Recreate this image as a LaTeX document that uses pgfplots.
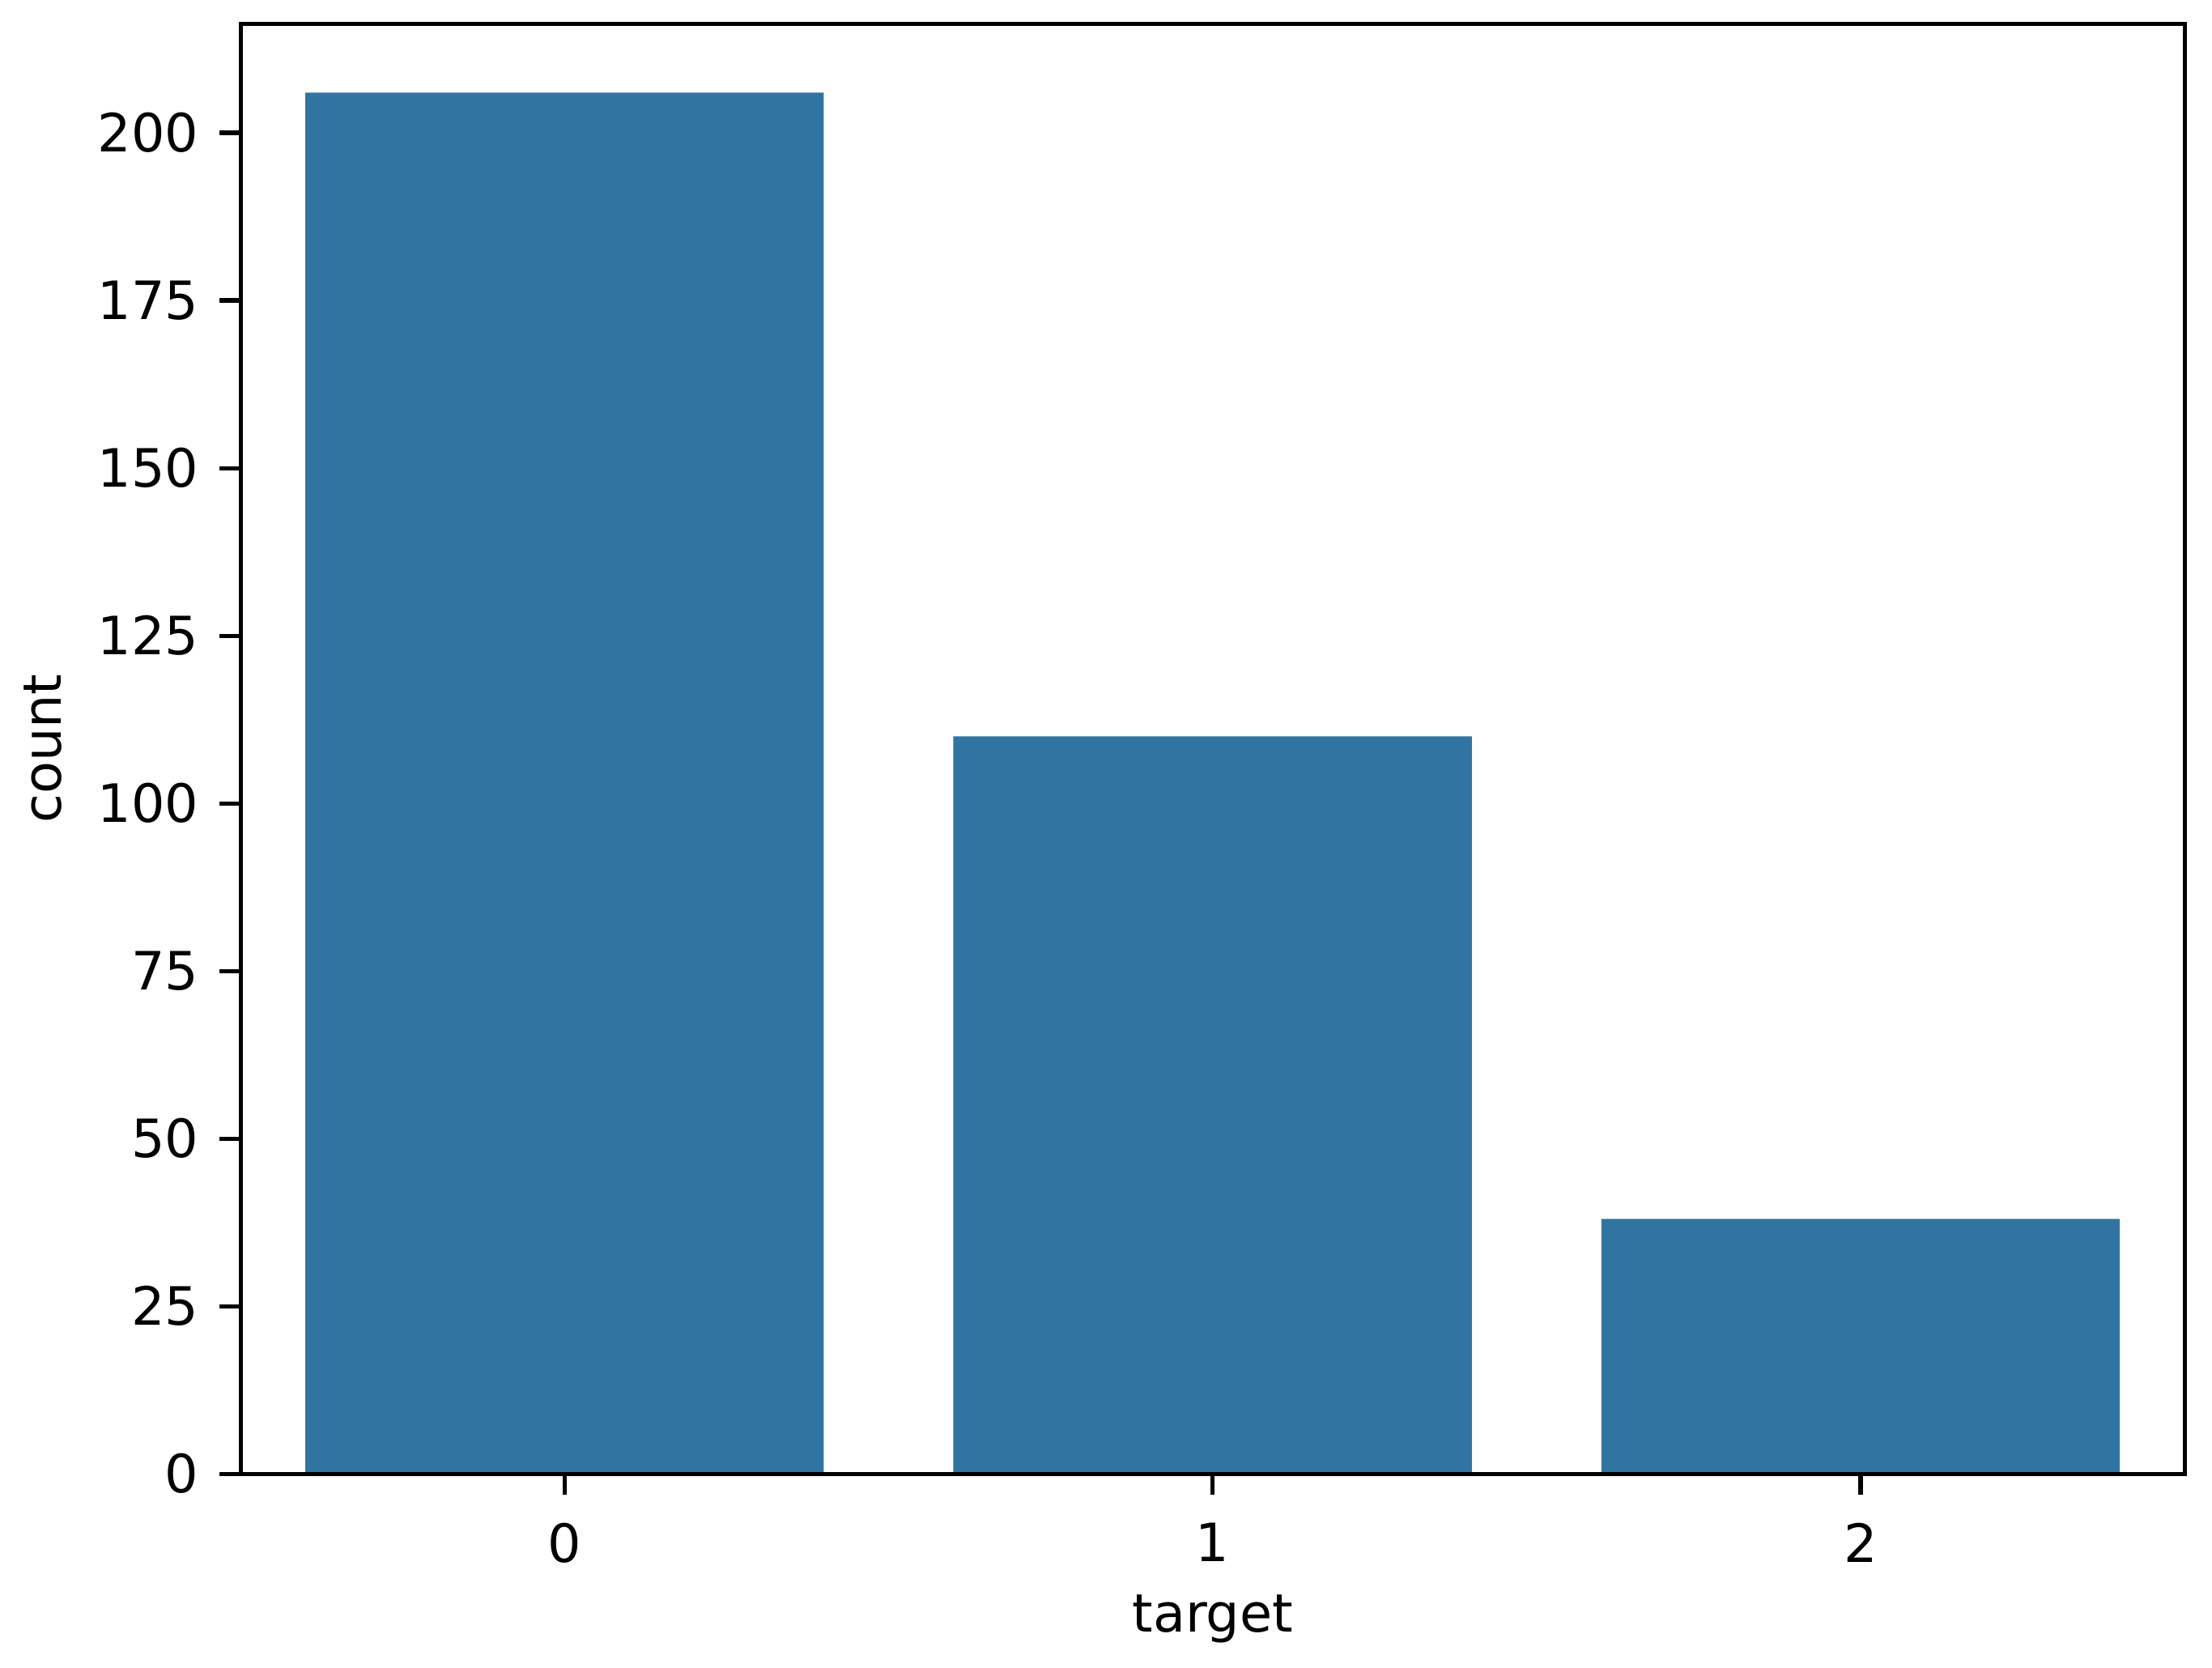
\documentclass[border=0pt]{standalone}
\usepackage{fontspec}
\setmainfont{DejaVu Sans}
\usepackage{pgfplots}
\pgfplotsset{compat=1.18}
\definecolor{barblue}{RGB}{50,116,161}

\begin{document}
\fontsize{11}{13}\selectfont
\begin{tikzpicture}
\begin{axis}[
    name=ax,
    scale only axis,
    width=405pt, height=302.1pt,
    xmin=-0.5, xmax=2.5,
    ymin=0, ymax=216.3,
    xtick={0,1,2},
    ytick={0,25,50,75,100,125,150,175,200},
    tick align=outside,
    tick pos=left,
    major tick length=4.4pt,
    axis line style={line width=0.85pt},
    every tick/.style={black, line width=0.85pt},
    /pgf/number format/assume math mode=true,
    ticklabel style={font=\fontsize{11}{13}\selectfont},
    yticklabel style={xshift=-0.5pt},
    xticklabel style={yshift=-2pt},
    xlabel={target}, ylabel={count},
    every axis x label/.style={at={(axis description cs:0.5,0)}, yshift=-32.9pt, anchor=base, inner sep=0pt, font=\fontsize{11}{13}\selectfont},
    every axis y label/.style={at={(axis description cs:0,0.5)}, xshift=-37.3pt, rotate=90, anchor=base, inner sep=0pt, font=\fontsize{11}{13}\selectfont},
    ybar, bar width=0.8, bar shift=0pt,
    axis on top,
]
\addplot[fill=barblue, draw=none] coordinates {(0,206) (1,110) (2,38)};
\end{axis}
\path (ax.south west) ++(-50.1pt,-40.3pt) coordinate (bl);
\path (ax.north east) ++(5.7pt,4.9pt) coordinate (tr);
\useasboundingbox (bl) rectangle (tr);
\end{tikzpicture}
\end{document}
